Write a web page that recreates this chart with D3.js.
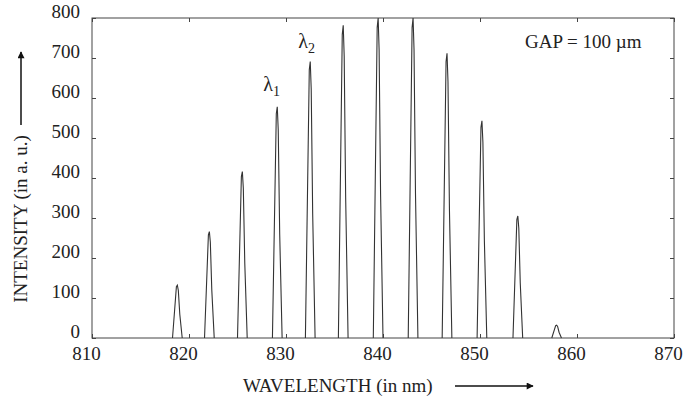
<!DOCTYPE html>
<html>
<head>
<meta charset="utf-8">
<script src="https://cdn.jsdelivr.net/npm/d3@7"></script>
<style>
  body { margin: 0; background: #fff; }
  svg text { font-family: "Liberation Serif", "Times New Roman", serif; fill: #222; }
</style>
</head>
<body>
<div id="chart"></div>
<script>
// peak positions (nm) and peak intensities (a.u.)
var peakWavelengths = [818.8, 822.1, 825.5, 829.1, 832.5, 835.9, 839.5, 843.1, 846.6, 850.2, 853.9, 857.9];
var peakIntensities = [132, 266, 416, 578, 691, 782, 800, 800, 712, 543, 305, 32];
var xTicks = [810, 820, 830, 840, 850, 860, 870];
var yTicks = [0, 100, 200, 300, 400, 500, 600, 700, 800];

var width = 686, height = 399;
var margin = { top: 18, right: 12, bottom: 61, left: 92 };

var svg = d3.select('#chart').append('svg')
  .attr('width', width)
  .attr('height', height);

var x = d3.scaleLinear().domain([810, 870]).range([margin.left, width - margin.right]);
var y = d3.scaleLinear().domain([0, 800]).range([height - margin.bottom, margin.top]);

var ink = '#444';

// inward ticks on all four sides
function styleAxis(g) {
  g.select('.domain').remove();
  g.selectAll('.tick line').attr('stroke', ink);
  g.selectAll('.tick text').style('font-size', '19px').attr('fill', '#222');
}

svg.append('g')
  .attr('transform', 'translate(0,' + y(0) + ')')
  .call(d3.axisBottom(x).tickValues(xTicks).tickSizeInner(-4).tickPadding(9).tickFormat(d3.format('d')))
  .call(styleAxis)
  .call(function(g) { g.selectAll('.tick text').attr('dx', -6); });

svg.append('g')
  .attr('transform', 'translate(0,' + y(800) + ')')
  .call(d3.axisTop(x).tickValues(xTicks).tickSizeInner(-4).tickFormat(''))
  .call(styleAxis);

svg.append('g')
  .attr('transform', 'translate(' + x(810) + ',0)')
  .call(d3.axisLeft(y).tickValues(yTicks).tickSizeInner(-4).tickPadding(12).tickFormat(d3.format('d')))
  .call(styleAxis)
  .call(function(g) { g.selectAll('.tick text').attr('dy', '-0.05em'); });

svg.append('g')
  .attr('transform', 'translate(' + x(870) + ',0)')
  .call(d3.axisRight(y).tickValues(yTicks).tickSizeInner(-4).tickFormat(''))
  .call(styleAxis);

// plot frame
svg.append('rect')
  .attr('x', x(810))
  .attr('y', y(800))
  .attr('width', x(870) - x(810))
  .attr('height', y(0) - y(800))
  .attr('fill', 'none')
  .attr('stroke', ink)
  .attr('stroke-width', 1);

// spectral peaks: narrow spikes, ~1 nm wide at the base
var peaks = peakWavelengths.map(function(w, i) { return { w: w, v: peakIntensities[i] }; });

var spike = d3.line()
  .x(function(p) { return x(p[0]); })
  .y(function(p) { return y(p[1]); });

svg.append('g')
  .selectAll('path')
  .data(peaks)
  .enter().append('path')
  .attr('d', function(d) {
    return spike([
      [d.w - 0.5, 0],
      [d.w - 0.1, d.v * 0.97],
      [d.w, d.v],
      [d.w + 0.1, d.v * 0.9],
      [d.w + 0.25, d.v * 0.45],
      [d.w + 0.5, 0]
    ]);
  })
  .attr('fill', 'none')
  .attr('stroke', '#333')
  .attr('stroke-width', 1.1);

// lambda labels on the 4th and 5th peaks
function lambda(i, sub, dx, dy) {
  var t = svg.append('text')
    .attr('x', x(peakWavelengths[i]) + dx)
    .attr('y', y(peakIntensities[i]) + dy)
    .style('font-size', '20px');
  t.append('tspan').text('λ');
  t.append('tspan').attr('dy', 5).style('font-size', '14px').text(sub);
}
lambda(3, '1', -14, -16);
lambda(4, '2', -12, -14);

svg.append('text')
  .attr('x', 525)
  .attr('y', 48)
  .style('font-size', '19px')
  .text('GAP = 100 µm');

// axis titles with arrows
svg.append('defs').append('marker')
  .attr('id', 'head')
  .attr('viewBox', '0 0 10 10')
  .attr('refX', 9).attr('refY', 5)
  .attr('markerWidth', 9).attr('markerHeight', 7)
  .attr('markerUnits', 'userSpaceOnUse')
  .attr('orient', 'auto')
  .append('path')
  .attr('d', 'M0,0L10,5L0,10z')
  .attr('fill', '#111');

svg.append('text')
  .attr('x', 243)
  .attr('y', 392)
  .style('font-size', '19px')
  .text('WAVELENGTH (in nm)');

svg.append('line')
  .attr('x1', 455).attr('y1', 386)
  .attr('x2', 533).attr('y2', 386)
  .attr('stroke', '#111').attr('stroke-width', 1.5)
  .attr('marker-end', 'url(#head)');

svg.append('text')
  .attr('transform', 'translate(27,219) rotate(-90)')
  .attr('text-anchor', 'middle')
  .style('font-size', '19px')
  .text('INTENSITY (in a. u.)');

svg.append('line')
  .attr('x1', 21).attr('y1', 125)
  .attr('x2', 21).attr('y2', 52)
  .attr('stroke', '#111').attr('stroke-width', 1.5)
  .attr('marker-end', 'url(#head)');
</script>
</body>
</html>
